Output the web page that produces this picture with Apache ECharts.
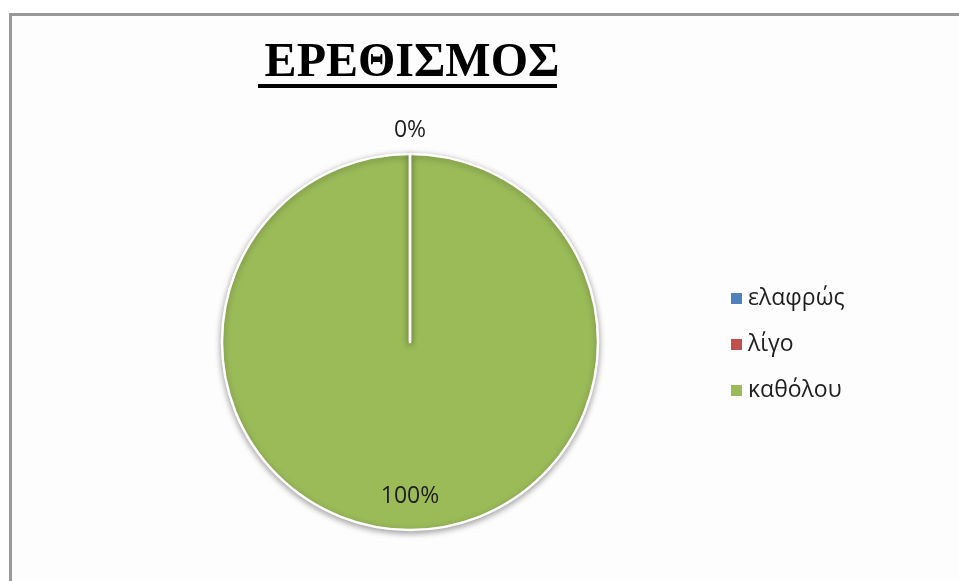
<!DOCTYPE html>
<html>
<head>
<meta charset="utf-8">
<script src="https://cdn.jsdelivr.net/npm/echarts@6/dist/echarts.min.js"></script>
<style>html,body{margin:0;padding:0;background:#fff;}#c{width:959px;height:581px;}</style>
</head>
<body>
<div id="c"></div>
<script>
var titleText = 'ΕΡΕΘΙΣΜΟΣ';
var categories = ['ελαφρώς', 'λίγο', 'καθόλου'];
var values = [0, 0, 100];
var colors = ['#4F81BD', '#C0504D', '#9BBB59'];

var chart = echarts.init(document.getElementById('c'), null, {renderer: 'canvas'});
var items = categories.map(function (c, i) {
  var item = {name: c, value: values[i], itemStyle: {color: colors[i]}};
  if (i === 0) item.label = {show: false};
  return item;
});
// draw the non-zero slice first so the zero slices' white borders stay visible on top
var data = items.filter(function (d) { return d.value > 0; })
  .concat(items.filter(function (d) { return d.value === 0; }));

chart.setOption({
  backgroundColor: '#ffffff',
  animation: false,
  title: {
    text: titleText,
    left: 407, top: 35, textAlign: 'center',
    textStyle: {fontFamily: 'Liberation Serif', fontWeight: 'bold', fontSize: 48, color: '#000'}
  },
  graphic: [
    {type: 'rect', left: 9, top: 13, shape: {width: 1000, height: 1000}, style: {fill: '#fdfdfd', stroke: '#999999', lineWidth: 3}, z: -10, silent: true},
    {type: 'rect', left: 258, top: 84, shape: {width: 299, height: 4}, style: {fill: '#000'}}
  ],
  legend: {
    orient: 'vertical',
    left: 726, top: 282,
    itemWidth: 11, itemHeight: 11, itemGap: 23,
    icon: 'rect',
    itemStyle: {borderWidth: 0},
    textStyle: {fontFamily: 'Open Sans', fontSize: 23, color: '#1e1e1e', padding: [0, 0, 0, 1]},
    data: categories
  },
  series: [{
    type: 'pie',
    center: [410, 342],
    radius: 188,
    startAngle: 90,
    clockwise: true,
    avoidLabelOverlap: false,
    itemStyle: {borderColor: '#ffffff', borderWidth: 2.5, shadowBlur: 6, shadowColor: 'rgba(0,0,0,0.35)', shadowOffsetY: 2},
    label: {
      show: true, position: 'inside',
      formatter: function (p) { return Math.round(p.percent) + '%'; },
      fontFamily: 'Open Sans', fontSize: 23, color: '#1e1e1e'
    },
    labelLine: {show: false},
    labelLayout: function (p) {
      return p.dataIndex === 0 ? {dy: 57} : {dy: -115};
    },
    emphasis: {disabled: true},
    data: data
  }]
});
</script>
</body>
</html>
